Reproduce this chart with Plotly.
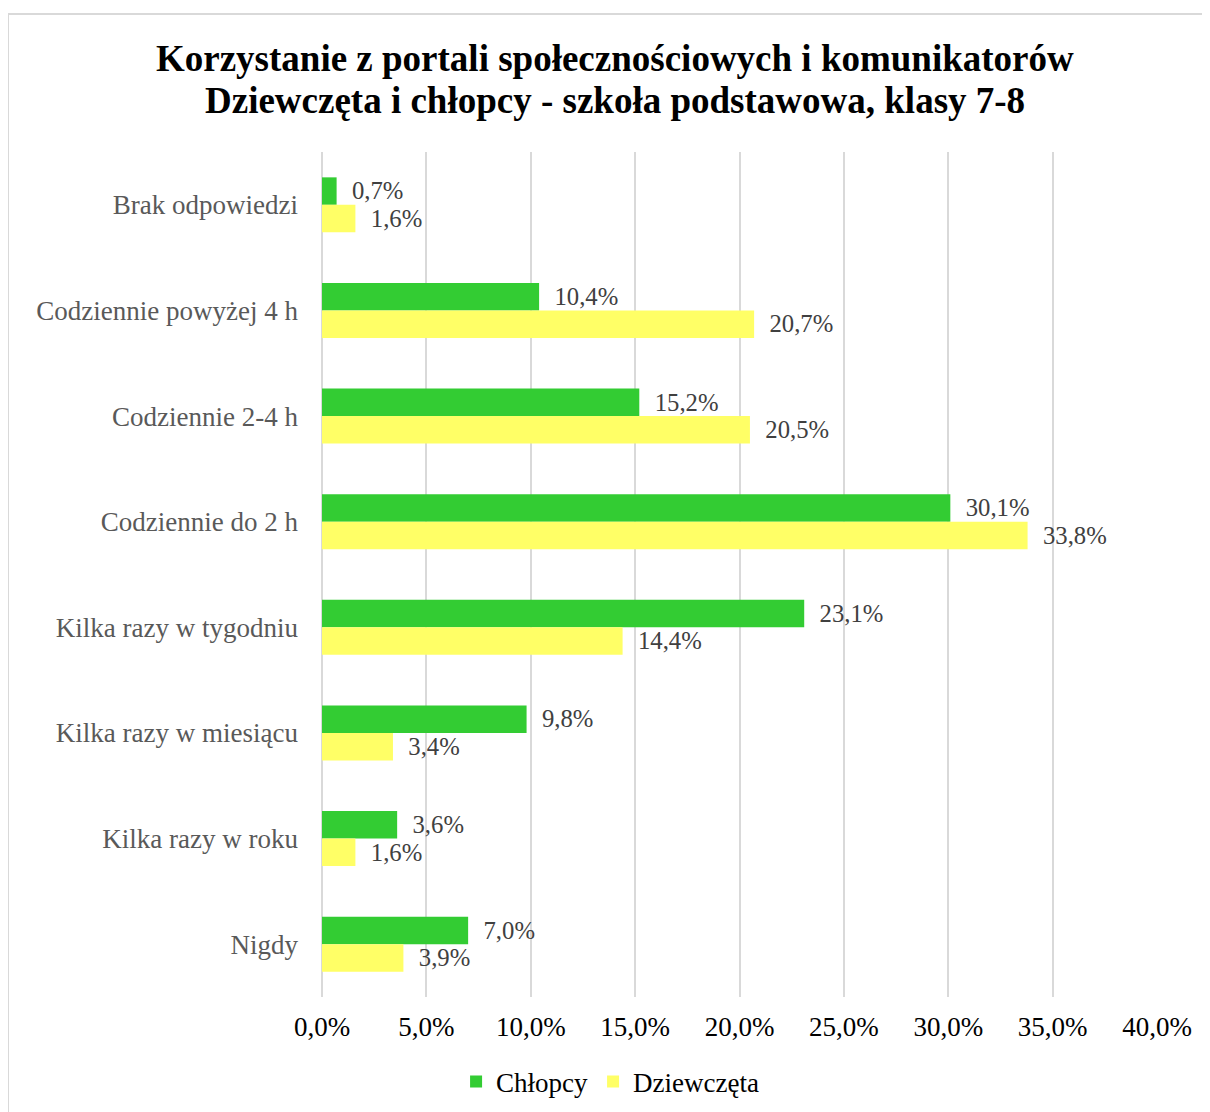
import plotly.graph_objects as go

categories = ["Brak odpowiedzi", "Codziennie powyżej 4 h", "Codziennie 2-4 h",
              "Codziennie do 2 h", "Kilka razy w tygodniu", "Kilka razy w miesiącu",
              "Kilka razy w roku", "Nigdy"]
chlopcy = [0.7, 10.4, 15.2, 30.1, 23.1, 9.8, 3.6, 7.0]
dziewczeta = [1.6, 20.7, 20.5, 33.8, 14.4, 3.4, 1.6, 3.9]
x_ticks = [0, 5, 10, 15, 20, 25, 30, 35, 40]
x_tick_labels = ["0,0%", "5,0%", "10,0%", "15,0%", "20,0%", "25,0%", "30,0%", "35,0%", "40,0%"]
title_lines = ["Korzystanie z portali społecznościowych i komunikatorów",
               "Dziewczęta i chłopcy - szkoła podstawowa, klasy 7-8"]

FONT = "Liberation Serif, Times New Roman, serif"
FS = 27

def lab(v):
    return "  " + f"{v:.1f}".replace(".", ",") + "%"

fig = go.Figure()
fig.add_trace(go.Bar(
    y=categories, x=chlopcy, name="Chłopcy", orientation="h",
    marker=dict(color="#33CC33", line=dict(width=0)),
    text=[lab(v) for v in chlopcy], textposition="outside",
    textfont=dict(family=FONT, size=FS, color="#404040"), cliponaxis=False,
))
fig.add_trace(go.Bar(
    y=categories, x=dziewczeta, name="Dziewczęta", orientation="h",
    marker=dict(color="#FFFF66", line=dict(width=0)),
    text=[lab(v) for v in dziewczeta], textposition="outside",
    textfont=dict(family=FONT, size=FS, color="#404040"), cliponaxis=False,
))

# plot area on the page: x 322..1157, y 152..997 (page has 8px body margin)
def py(ypage):
    return (997 - ypage) / 845

annotations = [
    dict(text="<b>" + t + "</b>", xref="paper", yref="paper",
         x=(615 - 322) / 835, y=py(yp), xanchor="center", yanchor="middle",
         showarrow=False, font=dict(family=FONT, size=37, color="black"))
    for t, yp in zip(title_lines, [58, 100])
]

fig.update_layout(
    width=1210, height=1112,
    margin=dict(l=314, r=61, t=144, b=123),
    paper_bgcolor="white", plot_bgcolor="white",
    barmode="group", bargap=0.48, bargroupgap=0,
    font=dict(family=FONT, size=FS, color="black"),
    annotations=annotations,
    xaxis=dict(
        range=[0, 40], tickvals=x_ticks, ticktext=x_tick_labels,
        showgrid=True, gridcolor="#d9d9d9", gridwidth=2,
        zeroline=True, zerolinecolor="#d9d9d9", zerolinewidth=2,
        showline=False, ticks="", ticklabelstandoff=11,
        tickfont=dict(family=FONT, size=FS, color="black"), fixedrange=True,
    ),
    yaxis=dict(
        autorange="reversed", showgrid=False, showline=False, ticks="",
        ticklabelstandoff=23,
        tickfont=dict(family=FONT, size=FS, color="#595959"),
    ),
    legend=dict(
        orientation="h", x=0.345, xanchor="center", y=py(1082), yanchor="middle",
        font=dict(family=FONT, size=FS, color="black"),
        traceorder="normal", itemwidth=30,
    ),
    showlegend=True,
    shapes=[dict(type="rect", xref="paper", yref="paper",
                 x0=(8 - 322) / 835, x1=1.2, y0=-0.3, y1=py(14),
                 line=dict(color="#d9d9d9", width=2), layer="below")],
)

fig.write_html("out.html")
